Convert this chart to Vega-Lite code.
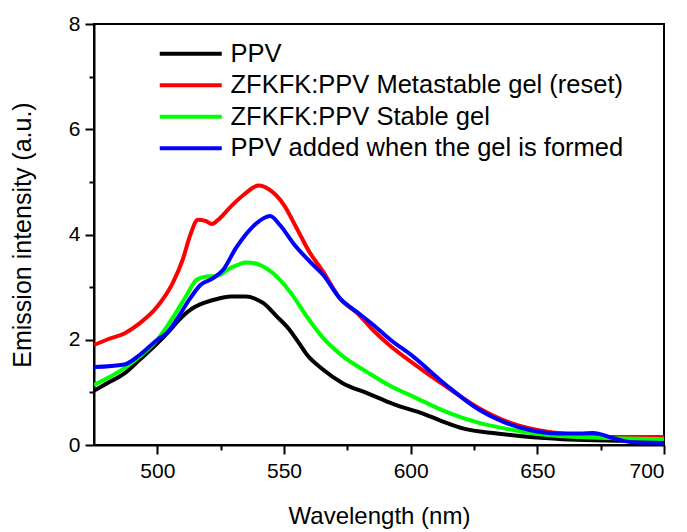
{
  "$schema": "https://vega.github.io/schema/vega-lite/v6.json",
  "width": 570,
  "height": 421,
  "autosize": {"type": "none"},
  "padding": {"left": 94, "top": 24, "right": 23, "bottom": 87},
  "config": {
    "font": "Liberation Sans",
    "view": {"stroke": "#000000", "strokeWidth": 2},
    "axis": {
      "grid": false,
      "domainColor": "#000000",
      "domainWidth": 2,
      "tickColor": "#000000",
      "tickWidth": 2,
      "labelColor": "#000000",
      "titleColor": "#000000",
      "labelFont": "Liberation Sans",
      "titleFont": "Liberation Sans",
      "labelFontSize": 21,
      "titleFontSize": 24,
      "titleFontWeight": "normal"
    }
  },
  "data": {
    "values": [
      {"s": "PPV", "nm": 475, "v": 1.03},
      {"s": "PPV", "nm": 480, "v": 1.17},
      {"s": "PPV", "nm": 487, "v": 1.36},
      {"s": "PPV", "nm": 493, "v": 1.62},
      {"s": "PPV", "nm": 500, "v": 1.93},
      {"s": "PPV", "nm": 505, "v": 2.18},
      {"s": "PPV", "nm": 508, "v": 2.35},
      {"s": "PPV", "nm": 513, "v": 2.57},
      {"s": "PPV", "nm": 519, "v": 2.71},
      {"s": "PPV", "nm": 524, "v": 2.78},
      {"s": "PPV", "nm": 529, "v": 2.82},
      {"s": "PPV", "nm": 535, "v": 2.82},
      {"s": "PPV", "nm": 539, "v": 2.77},
      {"s": "PPV", "nm": 542, "v": 2.69},
      {"s": "PPV", "nm": 547, "v": 2.45},
      {"s": "PPV", "nm": 552, "v": 2.2},
      {"s": "PPV", "nm": 556, "v": 1.93},
      {"s": "PPV", "nm": 559, "v": 1.72},
      {"s": "PPV", "nm": 565, "v": 1.45},
      {"s": "PPV", "nm": 573, "v": 1.18},
      {"s": "PPV", "nm": 583, "v": 0.98},
      {"s": "PPV", "nm": 588, "v": 0.88},
      {"s": "PPV", "nm": 592, "v": 0.8},
      {"s": "PPV", "nm": 596, "v": 0.73},
      {"s": "PPV", "nm": 604, "v": 0.61},
      {"s": "PPV", "nm": 612, "v": 0.46},
      {"s": "PPV", "nm": 621, "v": 0.31},
      {"s": "PPV", "nm": 634, "v": 0.22},
      {"s": "PPV", "nm": 647, "v": 0.15},
      {"s": "PPV", "nm": 660, "v": 0.11},
      {"s": "PPV", "nm": 673, "v": 0.09},
      {"s": "PPV", "nm": 690, "v": 0.08},
      {"s": "PPV", "nm": 700, "v": 0.08},

      {"s": "ZFKFK:PPV Metastable gel (reset)", "nm": 475, "v": 1.9},
      {"s": "ZFKFK:PPV Metastable gel (reset)", "nm": 480, "v": 2.0},
      {"s": "ZFKFK:PPV Metastable gel (reset)", "nm": 487, "v": 2.12},
      {"s": "ZFKFK:PPV Metastable gel (reset)", "nm": 493, "v": 2.31},
      {"s": "ZFKFK:PPV Metastable gel (reset)", "nm": 500, "v": 2.63},
      {"s": "ZFKFK:PPV Metastable gel (reset)", "nm": 506, "v": 3.07},
      {"s": "ZFKFK:PPV Metastable gel (reset)", "nm": 510, "v": 3.52},
      {"s": "ZFKFK:PPV Metastable gel (reset)", "nm": 513, "v": 3.99},
      {"s": "ZFKFK:PPV Metastable gel (reset)", "nm": 516, "v": 4.28},
      {"s": "ZFKFK:PPV Metastable gel (reset)", "nm": 519, "v": 4.26},
      {"s": "ZFKFK:PPV Metastable gel (reset)", "nm": 521.5, "v": 4.2},
      {"s": "ZFKFK:PPV Metastable gel (reset)", "nm": 524, "v": 4.28},
      {"s": "ZFKFK:PPV Metastable gel (reset)", "nm": 529, "v": 4.53},
      {"s": "ZFKFK:PPV Metastable gel (reset)", "nm": 534, "v": 4.75},
      {"s": "ZFKFK:PPV Metastable gel (reset)", "nm": 540, "v": 4.93},
      {"s": "ZFKFK:PPV Metastable gel (reset)", "nm": 544, "v": 4.86},
      {"s": "ZFKFK:PPV Metastable gel (reset)", "nm": 550, "v": 4.56},
      {"s": "ZFKFK:PPV Metastable gel (reset)", "nm": 555, "v": 4.12},
      {"s": "ZFKFK:PPV Metastable gel (reset)", "nm": 560, "v": 3.67},
      {"s": "ZFKFK:PPV Metastable gel (reset)", "nm": 565.5, "v": 3.29},
      {"s": "ZFKFK:PPV Metastable gel (reset)", "nm": 572, "v": 2.79},
      {"s": "ZFKFK:PPV Metastable gel (reset)", "nm": 579, "v": 2.5},
      {"s": "ZFKFK:PPV Metastable gel (reset)", "nm": 585, "v": 2.19},
      {"s": "ZFKFK:PPV Metastable gel (reset)", "nm": 592, "v": 1.88},
      {"s": "ZFKFK:PPV Metastable gel (reset)", "nm": 601, "v": 1.55},
      {"s": "ZFKFK:PPV Metastable gel (reset)", "nm": 614, "v": 1.11},
      {"s": "ZFKFK:PPV Metastable gel (reset)", "nm": 627, "v": 0.7},
      {"s": "ZFKFK:PPV Metastable gel (reset)", "nm": 640, "v": 0.41},
      {"s": "ZFKFK:PPV Metastable gel (reset)", "nm": 654, "v": 0.25},
      {"s": "ZFKFK:PPV Metastable gel (reset)", "nm": 667, "v": 0.19},
      {"s": "ZFKFK:PPV Metastable gel (reset)", "nm": 680, "v": 0.15},
      {"s": "ZFKFK:PPV Metastable gel (reset)", "nm": 700, "v": 0.15},

      {"s": "ZFKFK:PPV Stable gel", "nm": 475, "v": 1.14},
      {"s": "ZFKFK:PPV Stable gel", "nm": 487, "v": 1.46},
      {"s": "ZFKFK:PPV Stable gel", "nm": 493, "v": 1.68},
      {"s": "ZFKFK:PPV Stable gel", "nm": 500, "v": 2.0},
      {"s": "ZFKFK:PPV Stable gel", "nm": 506, "v": 2.41},
      {"s": "ZFKFK:PPV Stable gel", "nm": 511.6, "v": 2.85},
      {"s": "ZFKFK:PPV Stable gel", "nm": 515.5, "v": 3.14},
      {"s": "ZFKFK:PPV Stable gel", "nm": 519.5, "v": 3.2},
      {"s": "ZFKFK:PPV Stable gel", "nm": 523.5, "v": 3.21},
      {"s": "ZFKFK:PPV Stable gel", "nm": 528.7, "v": 3.36},
      {"s": "ZFKFK:PPV Stable gel", "nm": 535.3, "v": 3.47},
      {"s": "ZFKFK:PPV Stable gel", "nm": 540.6, "v": 3.42},
      {"s": "ZFKFK:PPV Stable gel", "nm": 545.8, "v": 3.26},
      {"s": "ZFKFK:PPV Stable gel", "nm": 552.4, "v": 2.91},
      {"s": "ZFKFK:PPV Stable gel", "nm": 559, "v": 2.44},
      {"s": "ZFKFK:PPV Stable gel", "nm": 565.5, "v": 2.03},
      {"s": "ZFKFK:PPV Stable gel", "nm": 573.4, "v": 1.68},
      {"s": "ZFKFK:PPV Stable gel", "nm": 582.7, "v": 1.39},
      {"s": "ZFKFK:PPV Stable gel", "nm": 592, "v": 1.12},
      {"s": "ZFKFK:PPV Stable gel", "nm": 601, "v": 0.92},
      {"s": "ZFKFK:PPV Stable gel", "nm": 614, "v": 0.63},
      {"s": "ZFKFK:PPV Stable gel", "nm": 627, "v": 0.42},
      {"s": "ZFKFK:PPV Stable gel", "nm": 640.5, "v": 0.285},
      {"s": "ZFKFK:PPV Stable gel", "nm": 654, "v": 0.19},
      {"s": "ZFKFK:PPV Stable gel", "nm": 667, "v": 0.15},
      {"s": "ZFKFK:PPV Stable gel", "nm": 680, "v": 0.13},
      {"s": "ZFKFK:PPV Stable gel", "nm": 700, "v": 0.11},

      {"s": "PPV added when the gel is formed", "nm": 475, "v": 1.48},
      {"s": "PPV added when the gel is formed", "nm": 487, "v": 1.53},
      {"s": "PPV added when the gel is formed", "nm": 493, "v": 1.71},
      {"s": "PPV added when the gel is formed", "nm": 500, "v": 2.0},
      {"s": "PPV added when the gel is formed", "nm": 503.6, "v": 2.12},
      {"s": "PPV added when the gel is formed", "nm": 507.6, "v": 2.38},
      {"s": "PPV added when the gel is formed", "nm": 513, "v": 2.79},
      {"s": "PPV added when the gel is formed", "nm": 517, "v": 3.04},
      {"s": "PPV added when the gel is formed", "nm": 522, "v": 3.17},
      {"s": "PPV added when the gel is formed", "nm": 526, "v": 3.33},
      {"s": "PPV added when the gel is formed", "nm": 531, "v": 3.74},
      {"s": "PPV added when the gel is formed", "nm": 536.5, "v": 4.09},
      {"s": "PPV added when the gel is formed", "nm": 542, "v": 4.31},
      {"s": "PPV added when the gel is formed", "nm": 544.5, "v": 4.35},
      {"s": "PPV added when the gel is formed", "nm": 548.4, "v": 4.18},
      {"s": "PPV added when the gel is formed", "nm": 553.7, "v": 3.83},
      {"s": "PPV added when the gel is formed", "nm": 560.3, "v": 3.48},
      {"s": "PPV added when the gel is formed", "nm": 565.5, "v": 3.23},
      {"s": "PPV added when the gel is formed", "nm": 572, "v": 2.79},
      {"s": "PPV added when the gel is formed", "nm": 578.7, "v": 2.53},
      {"s": "PPV added when the gel is formed", "nm": 585.3, "v": 2.28},
      {"s": "PPV added when the gel is formed", "nm": 592, "v": 2.0},
      {"s": "PPV added when the gel is formed", "nm": 601, "v": 1.68},
      {"s": "PPV added when the gel is formed", "nm": 614, "v": 1.14},
      {"s": "PPV added when the gel is formed", "nm": 627, "v": 0.67},
      {"s": "PPV added when the gel is formed", "nm": 636.6, "v": 0.44},
      {"s": "PPV added when the gel is formed", "nm": 647, "v": 0.285},
      {"s": "PPV added when the gel is formed", "nm": 657.7, "v": 0.22},
      {"s": "PPV added when the gel is formed", "nm": 667, "v": 0.22},
      {"s": "PPV added when the gel is formed", "nm": 672, "v": 0.23},
      {"s": "PPV added when the gel is formed", "nm": 680, "v": 0.13},
      {"s": "PPV added when the gel is formed", "nm": 688, "v": 0.05},
      {"s": "PPV added when the gel is formed", "nm": 700, "v": 0.04}
    ]
  },
  "layer": [
    {
      "mark": {"type": "line", "strokeWidth": 4, "interpolate": "monotone", "clip": true},
      "encoding": {
        "x": {
          "field": "nm", "type": "quantitative",
          "scale": {"domain": [475, 700], "nice": false, "zero": false},
          "axis": {"values": [500, 550, 600, 650, 700], "tickSize": 9, "labelPadding": 6, "title": "Wavelength (nm)", "titlePadding": 23}
        },
        "y": {
          "field": "v", "type": "quantitative",
          "scale": {"domain": [0, 8], "nice": false},
          "axis": {"values": [0, 2, 4, 6, 8], "tickSize": 9, "labelPadding": 5, "title": "Emission intensity (a.u.)", "titleFontSize": 25, "titlePadding": 33}
        },
        "color": {
          "field": "s", "type": "nominal",
          "scale": {
            "domain": ["PPV", "ZFKFK:PPV Metastable gel (reset)", "ZFKFK:PPV Stable gel", "PPV added when the gel is formed"],
            "range": ["#000000", "#ff0000", "#00ff00", "#0000ff"]
          },
          "legend": {
            "orient": "none",
            "legendX": 84,
            "legendY": 17,
            "title": null,
            "padding": 0,
            "symbolType": "M-3.1,0H3.1",
            "symbolSize": 400,
            "symbolStrokeWidth": 4,
            "labelFontSize": 25.5,
            "labelFont": "Liberation Sans",
            "labelColor": "#000000",
            "labelOffset": 27,
            "labelLimit": 600,
            "rowPadding": 4.5
          }
        }
      }
    },
    {
      "mark": {"type": "line", "opacity": 0},
      "encoding": {
        "x": {
          "field": "nm", "type": "quantitative",
          "axis": {"orient": "bottom", "values": [525, 575, 625, 675], "labels": false, "domain": false, "tickSize": 5, "title": null}
        },
        "y": {
          "field": "v", "type": "quantitative",
          "axis": {"orient": "left", "values": [1, 3, 5, 7], "labels": false, "domain": false, "tickSize": 5, "title": null}
        }
      }
    }
  ],
  "resolve": {"axis": {"x": "independent", "y": "independent"}}
}
